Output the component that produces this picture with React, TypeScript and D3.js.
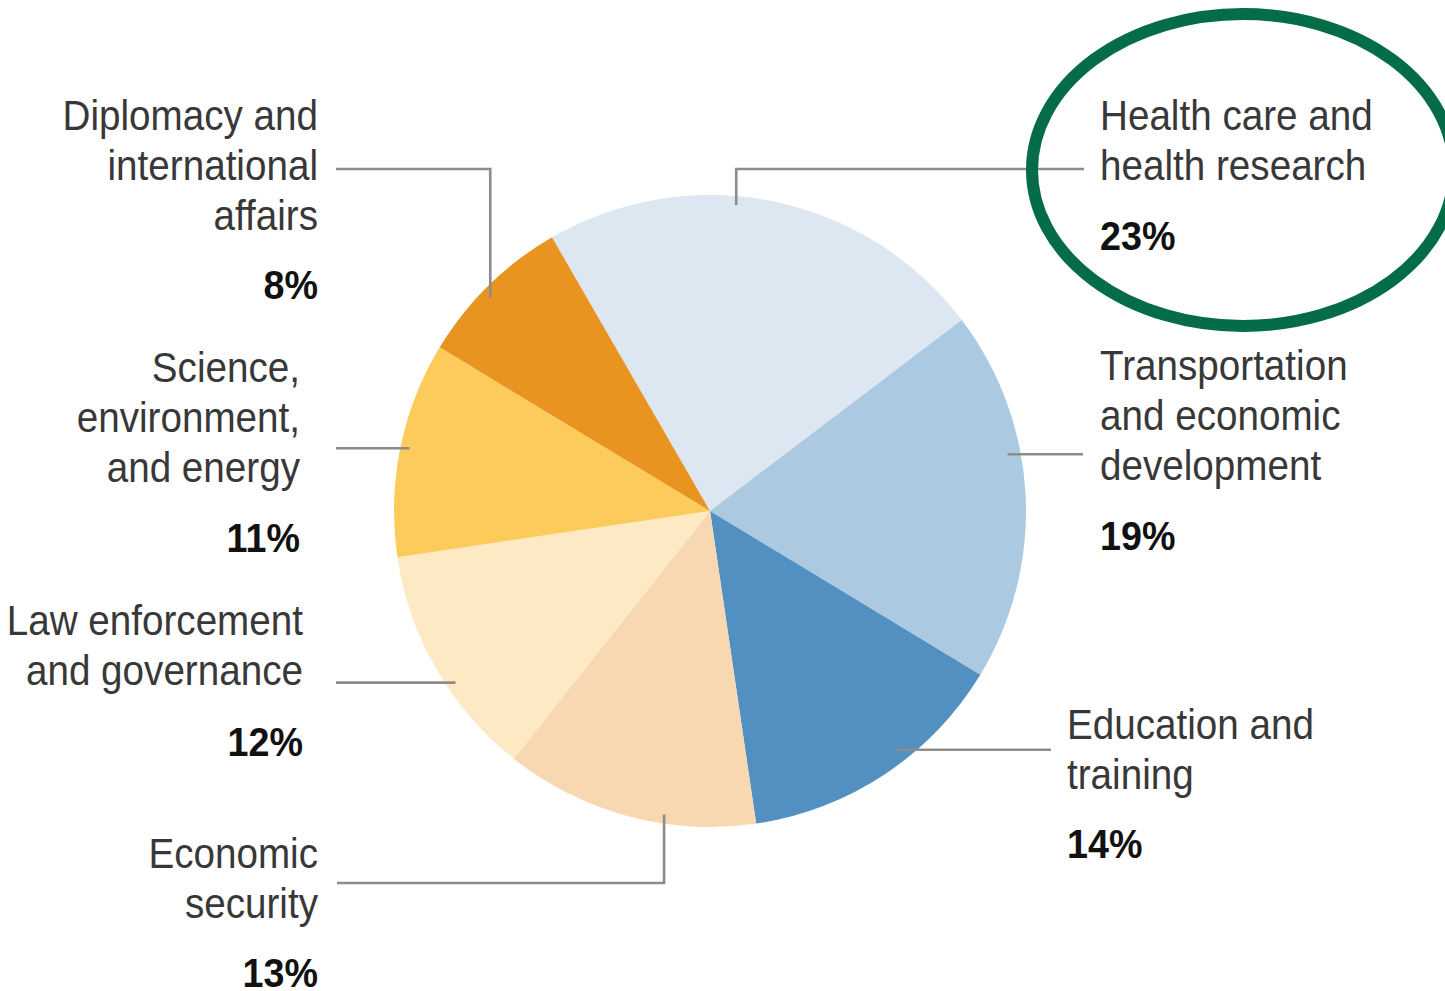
import * as d3 from 'd3';

// slice data, clockwise from the top-left
const categories = [
  'Health care and health research',
  'Transportation and economic development',
  'Education and training',
  'Economic security',
  'Law enforcement and governance',
  'Science, environment, and energy',
  'Diplomacy and international affairs',
];
const shares = [23, 19, 14, 13, 12, 11, 8];
const colors = ['#dce7f1', '#abc9e1', '#5190c1', '#f7d8b1', '#fee9c5', '#fccb5b', '#e99421'];

// how each label is broken into lines
const labelLines = [
  ['Health care and', 'health research'],
  ['Transportation', 'and economic', 'development'],
  ['Education and', 'training'],
  ['Economic', 'security'],
  ['Law enforcement', 'and governance'],
  ['Science,', 'environment,', 'and energy'],
  ['Diplomacy and', 'international', 'affairs'],
];

// label placement: x, first baseline, anchor side
const labelPos = [
  { x: 1100, y: 130, side: 'start', pctGap: 70 },
  { x: 1100, y: 380, side: 'start', pctGap: 70 },
  { x: 1067, y: 739, side: 'start', pctGap: 69 },
  { x: 318, y: 868, side: 'end', pctGap: 69 },
  { x: 303, y: 635, side: 'end', pctGap: 71 },
  { x: 300, y: 382, side: 'end', pctGap: 70 },
  { x: 318, y: 130, side: 'end', pctGap: 69 },
];

// leader lines: anchor angle (deg) / radius on pie, optional elbow y, end x
const leaders = [
  { angle: 4.9, r: 307, elbowY: 169, endX: 1084 },
  { angle: 79.2, r: 303, elbowY: null, endX: 1083 },
  { angle: 142, r: 303, elbowY: null, endX: 1051 },
  { angle: 188.6, r: 307, elbowY: 883, endX: 337 },
  { angle: 236, r: 307, elbowY: null, endX: 336 },
  { angle: 281.8, r: 307, elbowY: null, endX: 336 },
  { angle: 314.1, r: 306, elbowY: 169, endX: 336 },
];

const width = 1445;
const height = 991;
const cx = 710;
const cy = 511;
const radius = 316;
const lineH = 50;
const squeeze = 0.92;

export default function App() {
  const data = categories.map((c, i) => ({ name: c, value: shares[i], i }));
  const pie = d3.pie<any>()
    .value(d => d.value)
    .sort(null)
    .startAngle(-Math.PI / 6)
    .endAngle(-Math.PI / 6 + 2 * Math.PI);
  const arc = d3.arc<any>().innerRadius(0).outerRadius(radius);
  const arcs = pie(data);

  const toXY = (deg: number, r: number) => {
    const a = (deg * Math.PI) / 180;
    return [cx + r * Math.sin(a), cy - r * Math.cos(a)];
  };

  return (
    <svg width={width} height={height} style={{ position: 'absolute', left: 0, top: 0, background: '#fff' }}>
      <g transform={`translate(${cx},${cy})`}>
        {arcs.map(a => (
          <path key={a.data.name} d={arc(a) as string} fill={colors[a.data.i]} />
        ))}
      </g>

      {leaders.map((l, i) => {
        const [x0, y0] = toXY(l.angle, l.r);
        const pts = l.elbowY == null
          ? [[x0, y0], [l.endX, y0]]
          : [[x0, y0], [x0, l.elbowY], [l.endX, l.elbowY]];
        return (
          <path key={i} d={d3.line()(pts as [number, number][]) as string}
            fill="none" stroke="#8c8c8c" strokeWidth={2.6} />
        );
      })}

      {labelLines.map((lines, i) => {
        const p = labelPos[i];
        return (
          <g key={i} transform={`translate(${p.x},${p.y}) scale(${squeeze},1)`}
            fontFamily="'Liberation Sans', Arial, sans-serif" textAnchor={p.side}>
            {lines.map((t, j) => (
              <text key={j} y={j * lineH} fontSize={42} fill="#383838">{t}</text>
            ))}
            <text y={(lines.length - 1) * lineH + p.pctGap} fontSize={41} fontWeight="bold" fill="#111">
              {shares[i]}%
            </text>
          </g>
        );
      })}

      <ellipse cx={1243} cy={170} rx={211} ry={156} fill="none" stroke="#046c47" strokeWidth={12} />
    </svg>
  );
}
